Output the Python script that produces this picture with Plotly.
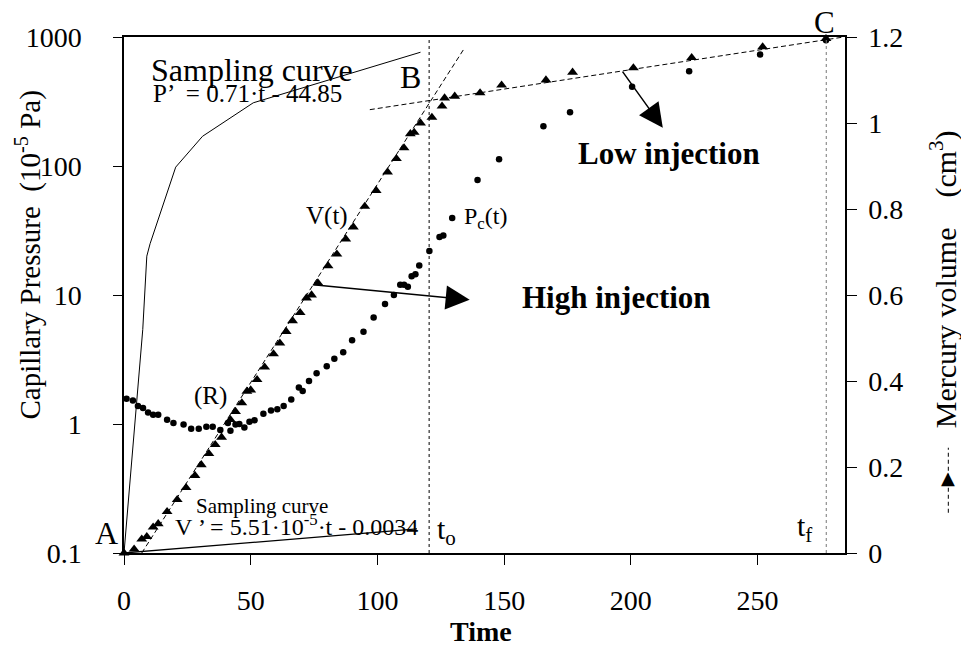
import plotly.graph_objects as go

# ---- data ----
# Mercury volume V(t) (triangles, right axis)
v_time = [0, 4, 7, 9, 11.5, 13.5, 17, 21, 24.5, 28, 30.5, 33.5, 36, 38.5, 42, 44, 46.5,
          48.5, 50, 52.5, 55.5, 59, 61.5, 64, 66.5, 69.5, 72, 74, 76.5, 80.5, 84, 87.5,
          90.5, 95, 99.5, 104, 107.5, 110.5, 113, 114.5, 117, 121.5, 125.5, 126.5, 130.5,
          140.5, 149, 166.5, 177, 201, 224, 252, 277]
v_vol = [0, 0.009, 0.032, 0.038, 0.060, 0.068, 0.096, 0.124, 0.152, 0.180, 0.205, 0.231,
         0.252, 0.269, 0.310, 0.329, 0.349, 0.376, 0.379, 0.403, 0.432, 0.463, 0.488,
         0.515, 0.540, 0.559, 0.593, 0.600, 0.628, 0.668, 0.695, 0.730, 0.758, 0.806,
         0.843, 0.886, 0.917, 0.942, 0.975, 0.978, 1.000, 1.013, 1.039, 1.058, 1.062,
         1.070, 1.088, 1.100, 1.118, 1.128, 1.152, 1.177, 1.196]

# Capillary pressure Pc(t) (dots, left log axis)
p_time = [-1, 1, 3.5, 5.5, 7.5, 9.5, 11.5, 13.5, 17, 19.5, 23.5, 26.5, 29.5, 32.5, 35, 38,
          41, 42, 44, 45.5, 47.5, 49.5, 51.5, 55, 58, 60.5, 63, 66, 69, 70.5, 73, 76, 80,
          83, 86.5, 90, 94.5, 98.5, 103, 106.5, 109, 110.5, 112, 113.5, 115, 116.5, 120.5,
          124.5, 126, 129.5, 139.5, 148, 165.5, 176, 200.5, 223, 251, 277]
p_cap = [1.74, 1.57, 1.52, 1.38, 1.33, 1.23, 1.18, 1.18, 1.08, 1.02, 0.99, 0.92, 0.92,
         0.95, 0.95, 0.90, 1.02, 0.885, 0.99, 1.0, 0.94, 1.04, 1.07, 1.2, 1.27, 1.30,
         1.38, 1.55, 1.92, 1.80, 2.15, 2.47, 2.8, 3.2, 3.6, 4.45, 5.2, 6.7, 8.5, 10.0,
         12.0, 12.0, 11.6, 14.0, 14.5, 16.9, 21.9, 28.1, 28.9, 39.6, 78, 113, 203, 261,
         411, 543, 731, 944]

# Sampling curves
samp_p_time = [0, 7.4, 9.0, 10.3, 20.4, 31, 51, 117]
samp_p_val = [0.1, 5.4, 20, 25, 98, 170, 309, 762]
samp_v_time = [0, 115.6]
samp_v_val = [0, 0.056]

# Fitted injection lines (volume axis)
high_fit_time = [7, 134]
high_fit_vol = [0, 1.171]
low_fit_time = [97, 284]
low_fit_vol = [1.031, 1.2]

t_o = 120.4
t_f = 277.1

x_ticks = [0, 50, 100, 150, 200, 250]
p_ticks = [0.1, 1, 10, 100, 1000]
p_tick_text = ["0.1", "1", "10", "100", "1000"]
v_ticks = [0, 0.2, 0.4, 0.6, 0.8, 1.0, 1.2]
v_tick_text = ["0", "0.2", "0.4", "0.6", "0.8", "1", "1.2"]

SERIF = "Liberation Serif"

fig = go.Figure()

fig.add_trace(go.Scatter(x=samp_p_time, y=samp_p_val, mode="lines", yaxis="y",
                         line=dict(color="black", width=1), hoverinfo="skip"))
fig.add_trace(go.Scatter(x=samp_v_time, y=samp_v_val, mode="lines", yaxis="y2",
                         line=dict(color="black", width=1.3), hoverinfo="skip"))
fig.add_trace(go.Scatter(x=high_fit_time, y=high_fit_vol, mode="lines", yaxis="y2",
                         line=dict(color="black", width=1, dash="5px,3px")))
fig.add_trace(go.Scatter(x=low_fit_time, y=low_fit_vol, mode="lines", yaxis="y2",
                         line=dict(color="black", width=1, dash="5px,3px")))
fig.add_trace(go.Scatter(x=p_time, y=p_cap, mode="markers", yaxis="y", cliponaxis=False,
                         marker=dict(symbol="circle", size=6.5, color="black")))
fig.add_trace(go.Scatter(x=v_time, y=v_vol, mode="markers", yaxis="y2", cliponaxis=False,
                         marker=dict(symbol="triangle-up", size=9.5, color="black")))

fig.add_shape(type="line", xref="x", yref="paper", x0=t_o, x1=t_o, y0=0, y1=1,
              line=dict(color="black", width=1, dash="dot"))
fig.add_shape(type="line", xref="x", yref="paper", x0=t_f, x1=t_f, y0=0, y1=1,
              line=dict(color="#777777", width=1, dash="dot"))
# legend mark beside the right title
fig.add_shape(type="line", xref="paper", yref="paper", x0=1.1433, x1=1.1433,
              y0=0.078, y1=0.204, line=dict(color="black", width=1, dash="4px,3px"))

ann = []
def txt(x, y, s, size, bold=False, ref=("x", "y2"), angle=0):
    ann.append(dict(x=x, y=y, xref=ref[0], yref=ref[1], text=s, showarrow=False,
                    textangle=angle, xanchor="center", yanchor="middle",
                    font=dict(family=SERIF, size=size, color="black",
                              weight="bold" if bold else "normal")))

txt(50.5, 1.124, "Sampling curve", 32)
txt(48.9, 1.068, "P’  = 0.71·t - 44.85", 25)
txt(113.2, 1.108, "B", 32)
txt(80.0, 0.784, "V(t)", 25)
txt(142.7, 0.780, "P<sub>c</sub>(t)", 24)
txt(34.3, 0.365, "(R)", 25)
txt(214.9, 0.929, "Low injection", 31, bold=True)
txt(194.4, 0.594, "High injection", 31, bold=True)
txt(54.4, 0.109, "Sampling curve", 21)
txt(68.2, 0.065, "V ’ = 5.51·10<sup>-5</sup>·t - 0.0034", 24)
txt(127.4, 0.051, "t<sub>o</sub>", 30)
txt(268.5, 0.058, "t<sub>f</sub>", 30)

P = ("paper", "paper")
txt(-0.0236, 0.0388, "A", 32, ref=P)
txt(0.971, 1.028, "C", 31, ref=P)
txt(0.495, -0.153, "Time", 28, bold=True, ref=P)
txt(-0.132, 0.578, "Capillary Pressure  (10<sup>-5</sup> Pa)", 29, ref=P, angle=-90)
txt(1.137, 0.53, "Mercury volume    (cm<sup>3</sup>)", 30, ref=P, angle=-90)
ann.append(dict(x=1.1433, y=0.147, xref="paper", yref="paper", text="▲", showarrow=False,
                xanchor="center", yanchor="middle",
                font=dict(family="DejaVu Sans", size=18, color="black")))

# arrows
ann.append(dict(x=136.4, y=0.589, ax=74.1, ay=0.624, xref="x", yref="y2", axref="x",
                ayref="y2", text="", showarrow=True, arrowhead=2, arrowsize=3.2,
                arrowwidth=1.5, arrowcolor="black"))
ann.append(dict(x=212.6, y=0.989, ax=196.3, ay=1.123, xref="x", yref="y2", axref="x",
                ayref="y2", text="", showarrow=True, arrowhead=2, arrowsize=3.2,
                arrowwidth=1.5, arrowcolor="black"))

tickfont = dict(family=SERIF, size=28, color="black")

fig.update_layout(
    width=961, height=649,
    margin=dict(l=116, r=124, t=29, b=104),
    paper_bgcolor="white", plot_bgcolor="white",
    showlegend=False,
    annotations=ann,
    xaxis=dict(range=[0, 284.5], tickvals=x_ticks, ticks="outside", ticklen=10,
               tickwidth=1, tickcolor="black", showline=True, linecolor="black",
               linewidth=1.5, mirror=True, showgrid=False, zeroline=False,
               tickfont=tickfont, ticklabelstandoff=12),
    yaxis=dict(type="log", range=[-1, 3], tickvals=p_ticks, ticktext=p_tick_text,
               ticks="outside", ticklen=9, tickwidth=1, tickcolor="black",
               showline=True, linecolor="black", linewidth=1.5, showgrid=False,
               zeroline=False, tickfont=tickfont, ticklabelstandoff=26),
    yaxis2=dict(overlaying="y", side="right", range=[0, 1.2], tickvals=v_ticks,
                ticktext=v_tick_text, ticks="outside", ticklen=10, tickwidth=1,
                tickcolor="black", showline=True, linecolor="black", linewidth=1.5,
                showgrid=False, zeroline=False, tickfont=tickfont, ticklabelstandoff=6),
    yaxis3=dict(overlaying="y", side="right", range=[0, 1.2], tickvals=v_ticks,
                ticks="inside", ticklen=10, tickwidth=1, tickcolor="black",
                showticklabels=False, showline=False, showgrid=False, zeroline=False),
)

fig.write_html("out.html")
